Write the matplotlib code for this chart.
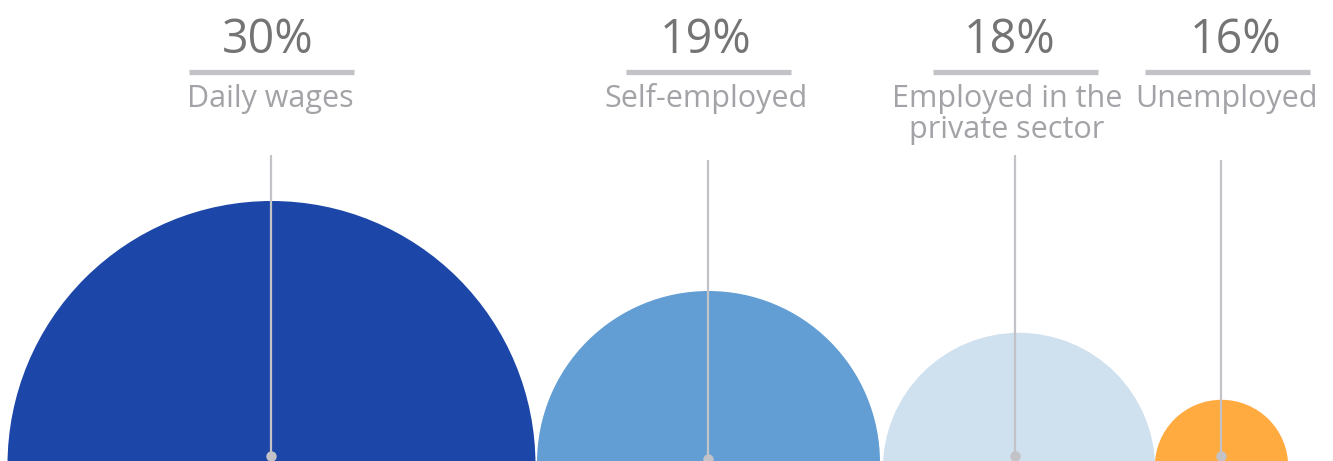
import matplotlib
matplotlib.use("Agg")
import matplotlib.pyplot as plt
from matplotlib.patches import Circle

# Data
categories = ["Daily wages", "Self-employed", "Employed in the\nprivate sector", "Unemployed"]
percent_values = [30, 19, 18, 16]
percent_labels = [f"{v}%" for v in percent_values]

# Layout / style (pixel coordinates, y downward)
W, H = 1333, 461
bubble_cx = [271.5, 708.5, 1019, 1221.5]
bubble_cy = [465, 462.5, 469, 466.5]
bubble_r = [264, 171.5, 136.2, 66.7]
line_x = [271, 708, 1015, 1221]
line_top = [155, 160, 155, 160]
dot_y = [456, 458.5, 456, 456]
bar_cx = [271, 708.5, 1015, 1227.5]
pct_cx = [268, 705.5, 1010, 1236]
text_cx = [270, 706, 1007, 1227]
colors = ["#1c47a8", "#629ed3", "#cfe0ef", "#ffab40"]
grey_line = "#c3c3c7"
pct_color = "#747474"
lab_color = "#a3a3a7"

fig = plt.figure(figsize=(W / 100, H / 100), dpi=100)
ax = fig.add_axes([0, 0, 1, 1])
ax.set_xlim(0, W)
ax.set_ylim(H, 0)
ax.axis("off")

font = ["Open Sans", "DejaVu Sans"]

for i in range(len(categories)):
    ax.add_patch(Circle((bubble_cx[i], bubble_cy[i]), bubble_r[i],
                        facecolor=colors[i], edgecolor="none", zorder=1))
    ax.plot([line_x[i], line_x[i]], [line_top[i], dot_y[i]], color=grey_line,
            lw=1.6, solid_capstyle="butt", zorder=2)
    ax.plot(line_x[i], dot_y[i], "o", color=grey_line, ms=7.5, mec="none", zorder=3)
    # header bar
    ax.plot([bar_cx[i] - 82.5, bar_cx[i] + 82.5], [72.5, 72.5], color=grey_line,
            lw=3.8, solid_capstyle="butt", zorder=2)
    ax.text(pct_cx[i], 53, percent_labels[i], ha="center", va="baseline",
            fontsize=33.5, color=pct_color, family=font)
    lines = categories[i].split("\n")
    for j, line in enumerate(lines):
        ax.text(text_cx[i], 107 + 30.5 * j, line, ha="center", va="baseline",
                fontsize=22, color=lab_color, family=font)

fig.savefig("out.png", dpi=100)
